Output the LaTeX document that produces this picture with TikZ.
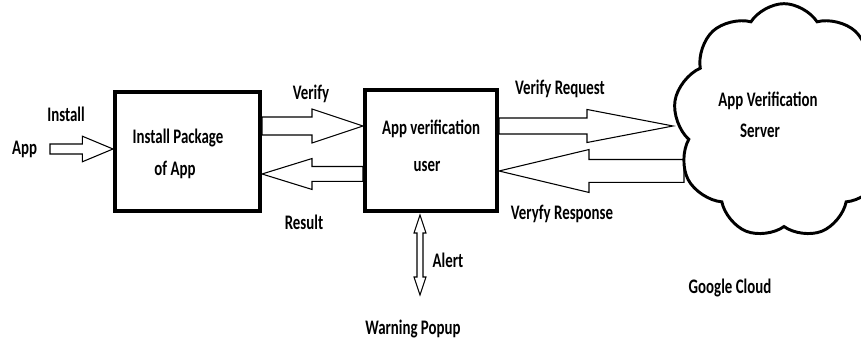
\documentclass[tikz,border=0pt]{standalone}
\usepackage{fontspec}
\setmainfont{Carlito}[FakeStretch=0.72]
\usetikzlibrary{calc}
\usetikzlibrary{shapes.symbols}

\tikzset{
  lbl/.style={font=\bfseries\fontsize{15.5}{23}\selectfont, anchor=base, inner sep=0pt},
  block/.style={draw, line width=3pt},
  % hollow block arrow: shaft half width, head half width, head length
  hollow/.style n args={3}{draw, line width=.8pt,
    to path={($(\tikztostart)!#1!90:(\tikztotarget)$)
      -- ($(\tikztotarget)!#3!(\tikztostart)!#1!90:(\tikztotarget)$)
      -- ($(\tikztotarget)!#3!(\tikztostart)!#2!90:(\tikztotarget)$)
      -- (\tikztotarget)
      -- ($(\tikztotarget)!#3!(\tikztostart)!#2!-90:(\tikztotarget)$)
      -- ($(\tikztotarget)!#3!(\tikztostart)!#1!-90:(\tikztotarget)$)
      -- ($(\tikztostart)!#1!-90:(\tikztotarget)$) -- cycle}},
  hollowboth/.style n args={3}{draw, line width=.8pt,
    to path={(\tikztostart)
      -- ($(\tikztostart)!#3!(\tikztotarget)!#2!90:(\tikztotarget)$)
      -- ($(\tikztostart)!#3!(\tikztotarget)!#1!90:(\tikztotarget)$)
      -- ($(\tikztotarget)!#3!(\tikztostart)!#1!90:(\tikztotarget)$)
      -- ($(\tikztotarget)!#3!(\tikztostart)!#2!90:(\tikztotarget)$)
      -- (\tikztotarget)
      -- ($(\tikztotarget)!#3!(\tikztostart)!#2!-90:(\tikztotarget)$)
      -- ($(\tikztotarget)!#3!(\tikztostart)!#1!-90:(\tikztotarget)$)
      -- ($(\tikztostart)!#3!(\tikztotarget)!#1!-90:(\tikztotarget)$)
      -- ($(\tikztostart)!#3!(\tikztotarget)!#2!-90:(\tikztotarget)$) -- cycle}}
}

\begin{document}
\begin{tikzpicture}[x=.75pt,y=-.75pt]

\useasboundingbox (0,0) rectangle (861,341);
\fill[white] (0,0) rectangle (861,341);
\clip (0,0) rectangle (861,341);

\node[block, minimum width=108.75pt, minimum height=89.25pt] (pkg) at (187.5,151.5) {};
\node[block, minimum width=99pt, minimum height=90.75pt] (verifier) at (431,150.5) {};

\coordinate (appTail) at (50,149);
\coordinate (appTip) at (pkg.west |- 0,149);
\coordinate (vfyTail) at (pkg.east |- 0,126);
\coordinate (vfyTip) at (verifier.west |- 0,126);
\coordinate (resTail) at (verifier.west |- 0,174);
\coordinate (resTip) at (pkg.east |- 0,174);
\coordinate (reqTail) at (verifier.east |- 0,126);
\coordinate (reqTip) at (673,126);
\coordinate (rspTail) at (684,171);
\coordinate (rspTip) at (verifier.east |- 0,171);
\coordinate (alertTop) at (420,215);
\coordinate (alertBot) at (420,295);

\draw[hollow={3.75pt}{9.6pt}{23pt}] (appTail) to (appTip);
\draw[hollow={6.75pt}{12.75pt}{38.25pt}] (vfyTail) to (vfyTip);
\draw[hollow={5.6pt}{11.6pt}{37.5pt}] (resTail) to (resTip);
\draw[hollow={6pt}{12.4pt}{64.5pt}] (reqTail) to (reqTip);
\draw[hollow={8.6pt}{16.1pt}{67.5pt}] (rspTail) to (rspTip);
\draw[hollowboth={2.25pt}{4.5pt}{13.5pt}] (alertTop) to (alertBot);

\node[cloud, draw, fill=white, line width=2.2pt, cloud puffs=9, cloud puff arc=115,
  cloud ignores aspect, minimum width=166pt, minimum height=176pt] (server) at (784,121) {};

\node[lbl] (appLbl) at (24.5,155) {App};
\node[lbl] (installLbl) at (66,122) {Install};
\node[lbl] (pkgLbl1) at (178,144) {Install Package};
\node[lbl] (pkgLbl2) at (175,176) {of App};
\node[lbl] (verifyLbl) at (311,100) {Verify};
\node[lbl] (resultLbl) at (304,230) {Result};
\node[lbl] (userLbl1) at (431,135) {App verification};
\node[lbl] (userLbl2) at (427,172) {user};
\node[lbl] (reqLbl) at (560,95) {Verify Request};
\node[lbl] (rspLbl) at (562,220) {Veryfy Response};
\node[lbl] (srvLbl1) at (768,107) {App Verification};
\node[lbl] (srvLbl2) at (760,138) {Server};
\node[lbl] (alertLbl) at (448,268) {Alert};
\node[lbl] (popupLbl) at (413,335) {Warning Popup};
\node[lbl] (gcLbl) at (730,294) {Google Cloud};

\end{tikzpicture}
\end{document}
